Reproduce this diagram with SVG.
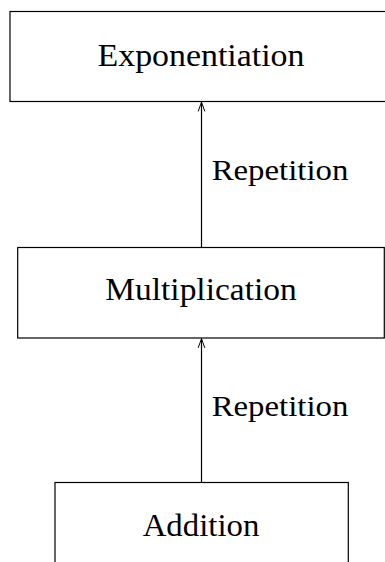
<svg xmlns="http://www.w3.org/2000/svg" width="385" height="562" viewBox="0 0 385 562">
<style>
.box{fill:#fff;stroke:#000;stroke-width:1.2}
.lbl{font-size:31px;fill:#000;text-anchor:middle}
.edge{font-size:30px;fill:#000}
.conn{stroke:#000;stroke-width:1.2;fill:none}
.head{stroke:#000;stroke-width:1;fill:none;stroke-linecap:round;stroke-linejoin:round}
</style>
<rect width="385" height="562" fill="#fff"/>
<g id="exponentiation">
<rect class="box" x="10" y="11.5" width="382" height="90"/>
<text class="lbl" font-family="'Liberation Serif', 'DejaVu Serif', 'Times New Roman', serif" x="201" y="65.7" textLength="207" lengthAdjust="spacingAndGlyphs">Exponentiation</text>
</g>
<g id="multiplication">
<rect class="box" x="17.7" y="247.5" width="366.6" height="90.5"/>
<text class="lbl" font-family="'Liberation Serif', 'DejaVu Serif', 'Times New Roman', serif" x="201" y="300" textLength="191.5" lengthAdjust="spacingAndGlyphs">Multiplication</text>
</g>
<g id="addition">
<rect class="box" x="55" y="482.5" width="293.3" height="100"/>
<text class="lbl" font-family="'Liberation Serif', 'DejaVu Serif', 'Times New Roman', serif" x="201" y="535.7" textLength="116.6" lengthAdjust="spacingAndGlyphs">Addition</text>
</g>
<g id="connectors">
<line class="conn" x1="201.5" y1="247.5" x2="201.5" y2="102"/>
<path class="head" d="M198.3,111 Q200.5,105 201.5,102.3 Q202.5,105 204.7,111"/>
<text class="edge" font-family="'Liberation Serif', 'DejaVu Serif', 'Times New Roman', serif" x="211.7" y="179.5" textLength="136.6" lengthAdjust="spacingAndGlyphs">Repetition</text>
<line class="conn" x1="201.5" y1="482.5" x2="201.5" y2="338.5"/>
<path class="head" d="M198.3,347.5 Q200.5,341.5 201.5,338.8 Q202.5,341.5 204.7,347.5"/>
<text class="edge" font-family="'Liberation Serif', 'DejaVu Serif', 'Times New Roman', serif" x="211.7" y="415.5" textLength="136.6" lengthAdjust="spacingAndGlyphs">Repetition</text>
</g>
</svg>
